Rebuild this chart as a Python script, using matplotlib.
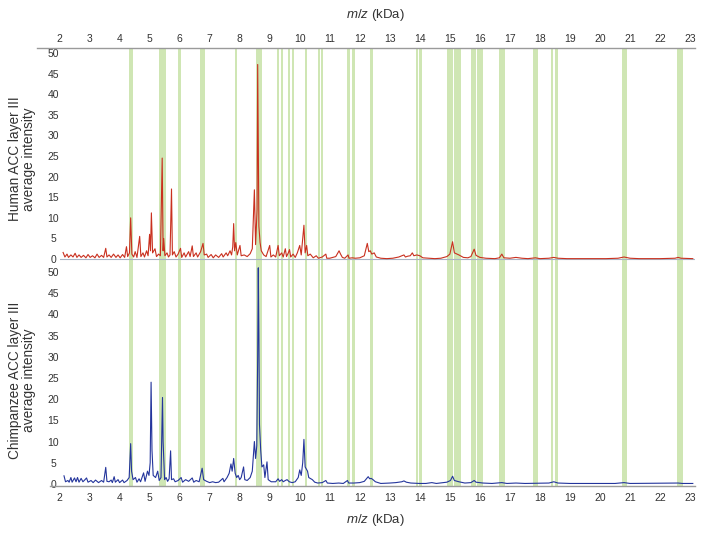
import matplotlib
matplotlib.use("Agg")
import matplotlib.pyplot as plt
from matplotlib.lines import Line2D

plt.rcParams['font.family'] = ['Liberation Sans', 'DejaVu Sans']
plt.rcParams['mathtext.fontset'] = 'custom'
plt.rcParams['mathtext.it'] = 'Liberation Sans:italic'
plt.rcParams['mathtext.rm'] = 'Liberation Sans'

# mass ranges (kDa) highlighted in green
bands = [(4.32, 4.45), (5.31, 5.54), (5.96, 6.06), (6.69, 6.83), (7.84, 7.91),
         (8.56, 8.73), (9.25, 9.31), (9.38, 9.44), (9.62, 9.68), (9.75, 9.82),
         (10.16, 10.23), (10.60, 10.67), (10.70, 10.77), (11.59, 11.67), (11.75, 11.83),
         (12.34, 12.43), (13.87, 13.95), (13.98, 14.07), (14.91, 15.09), (15.13, 15.20),
         (15.22, 15.38), (15.69, 15.86), (15.91, 16.09), (16.64, 16.82), (17.77, 17.92),
         (18.38, 18.45), (18.51, 18.59), (20.74, 20.89), (22.57, 22.75)]

human_mz = [2.12, 2.18, 2.25, 2.3, 2.38, 2.45, 2.52, 2.58, 2.65, 2.72, 2.8, 2.88, 2.95, 3.02,
            3.1, 3.18, 3.25, 3.32, 3.4, 3.47, 3.54, 3.58, 3.65, 3.72, 3.8, 3.88, 3.95, 4.02,
            4.1, 4.17, 4.23, 4.27, 4.33, 4.37, 4.41, 4.47, 4.52, 4.58, 4.67, 4.71, 4.78, 4.83,
            4.9, 4.95, 5.0, 5.03, 5.06, 5.1, 5.18, 5.23, 5.3, 5.36, 5.42, 5.45, 5.47, 5.51,
            5.58, 5.63, 5.68, 5.73, 5.76, 5.82, 5.88, 5.95, 6.03, 6.07, 6.15, 6.2, 6.3, 6.35,
            6.42, 6.46, 6.55, 6.6, 6.7, 6.78, 6.82, 6.9, 6.95, 7.05, 7.12, 7.2, 7.3, 7.4,
            7.45, 7.55, 7.6, 7.68, 7.73, 7.77, 7.8, 7.83, 7.87, 7.92, 8.01, 8.05, 8.15, 8.25,
            8.35, 8.42, 8.49, 8.53, 8.58, 8.6, 8.61, 8.64, 8.68, 8.72, 8.8, 8.88, 9.0, 9.04,
            9.12, 9.2, 9.28, 9.32, 9.4, 9.45, 9.52, 9.56, 9.62, 9.66, 9.7, 9.78, 9.85, 9.92,
            10.0, 10.05, 10.14, 10.18, 10.23, 10.27, 10.35, 10.45, 10.55, 10.62, 10.75, 10.87,
            10.9, 11.0, 11.1, 11.2, 11.31, 11.36, 11.42, 11.5, 11.61, 11.64, 11.75, 11.85,
            12.0, 12.15, 12.25, 12.3, 12.35, 12.4, 12.48, 12.55, 12.7, 12.9, 13.1, 13.3,
            13.47, 13.52, 13.6, 13.68, 13.75, 13.8, 13.9, 14.0, 14.1, 14.3, 14.5, 14.7,
            14.9, 15.0, 15.09, 15.15, 15.3, 15.45, 15.6, 15.7, 15.81, 15.87, 16.0, 16.2,
            16.5, 16.65, 16.73, 16.8, 17.0, 17.2, 17.4, 17.6, 17.85, 18.0, 18.3, 18.46,
            18.6, 18.9, 19.5, 20.2, 20.6, 20.8, 21.0, 21.3, 22.0, 22.5, 22.6, 22.7, 23.09]
human_int = [1.6, 0.5, 1.2, 0.4, 1.0, 0.5, 1.4, 0.4, 1.0, 0.4, 0.9, 0.3, 1.1, 0.4,
             0.8, 0.3, 1.2, 0.4, 0.9, 0.4, 2.6, 0.5, 1.0, 0.4, 1.2, 0.4, 1.0, 0.3,
             1.1, 0.4, 3.0, 0.6, 1.5, 10.0, 1.2, 0.5, 1.8, 0.4, 5.5, 0.6, 1.5, 0.5,
             2.0, 0.8, 6.0, 2.0, 11.2, 1.5, 2.5, 0.6, 1.2, 0.8, 24.5, 2.0, 5.0, 0.8,
             1.5, 0.5, 1.0, 17.0, 1.0, 1.8, 0.5, 1.2, 2.6, 0.4, 1.5, 0.5, 1.8, 0.6,
             3.2, 0.6, 1.5, 0.5, 1.8, 3.8, 1.0, 1.2, 0.4, 1.1, 0.3, 1.0, 0.4, 1.3,
             0.5, 1.5, 0.8, 2.0, 1.0, 3.0, 8.6, 2.0, 4.0, 1.0, 3.3, 0.8, 1.0, 0.6,
             1.3, 2.5, 16.8, 3.5, 12.0, 47.2, 38.0, 8.0, 4.0, 2.0, 1.0, 0.6, 3.3, 0.5,
             1.0, 0.5, 3.3, 0.8, 1.5, 0.5, 2.5, 0.6, 1.5, 2.3, 0.5, 1.2, 0.4, 1.5,
             3.3, 1.0, 8.2, 1.5, 3.3, 0.8, 1.2, 0.3, 0.8, 0.2, 0.5, 1.2,
             0.2, 0.2, 0.4, 0.6, 2.0, 1.2, 0.4, 0.2, 1.0, 0.2, 0.3, 0.2,
             0.3, 0.8, 3.8, 1.8, 2.0, 1.2, 1.5, 0.5, 0.2, 0.1, 0.2, 0.5,
             1.0, 0.5, 0.7, 0.8, 1.5, 0.8, 1.0, 0.8, 0.3, 0.2, 0.1, 0.2,
             0.6, 1.2, 4.2, 1.5, 1.0, 0.4, 0.3, 0.6, 2.4, 0.9, 0.4, 0.2,
             0.1, 0.3, 1.2, 0.3, 0.2, 0.4, 0.2, 0.1, 0.3, 0.1, 0.2, 0.4,
             0.2, 0.1, 0.1, 0.1, 0.2, 0.5, 0.2, 0.1, 0.1, 0.2, 0.4, 0.2, 0.1]

chimp_mz = [2.15, 2.2, 2.28, 2.32, 2.38, 2.42, 2.5, 2.55, 2.6, 2.65, 2.72, 2.78, 2.85, 2.9,
            2.95, 3.05, 3.12, 3.2, 3.3, 3.4, 3.47, 3.54, 3.58, 3.65, 3.72, 3.76, 3.82, 3.86,
            3.95, 4.0, 4.1, 4.15, 4.25, 4.32, 4.37, 4.4, 4.45, 4.53, 4.58, 4.65, 4.7, 4.8,
            4.85, 4.93, 4.98, 5.02, 5.05, 5.08, 5.12, 5.2, 5.27, 5.32, 5.38, 5.43, 5.45, 5.47,
            5.5, 5.55, 5.6, 5.65, 5.7, 5.73, 5.8, 5.85, 5.95, 6.05, 6.1, 6.2, 6.3, 6.42,
            6.47, 6.55, 6.65, 6.75, 6.8, 6.9, 7.0, 7.1, 7.2, 7.3, 7.44, 7.48, 7.58, 7.65,
            7.71, 7.75, 7.8, 7.85, 7.9, 7.95, 8.0, 8.05, 8.13, 8.17, 8.25, 8.35, 8.42, 8.49,
            8.53, 8.57, 8.6, 8.62, 8.64, 8.66, 8.7, 8.74, 8.8, 8.84, 8.91, 8.95, 9.05, 9.2,
            9.28, 9.33, 9.4, 9.45, 9.52, 9.58, 9.65, 9.75, 9.85, 9.95, 10.0, 10.05, 10.1, 10.14,
            10.18, 10.26, 10.3, 10.42, 10.5, 10.6, 10.75, 10.87, 10.92, 11.1, 11.3, 11.45,
            11.59, 11.63, 11.8, 12.0, 12.15, 12.28, 12.33, 12.38, 12.44, 12.52, 12.7, 13.0,
            13.2, 13.4, 13.47, 13.55, 13.7, 14.0, 14.2, 14.4, 14.55, 14.9, 15.02, 15.09,
            15.15, 15.3, 15.5, 15.7, 15.81, 15.87, 16.1, 16.4, 16.73, 16.9, 17.2, 17.5,
            18.3, 18.46, 18.6, 19.0, 20.5, 20.8, 21.0, 22.6, 22.75, 23.09]
chimp_int = [1.9, 0.5, 0.8, 0.4, 1.5, 0.4, 1.4, 0.5, 1.5, 0.4, 1.3, 0.5, 1.0, 1.4,
             0.4, 0.8, 0.3, 0.9, 0.3, 0.8, 0.4, 3.9, 0.6, 0.5, 0.9, 0.3, 1.7, 0.4,
             1.0, 0.3, 0.9, 0.3, 0.8, 1.5, 9.5, 3.0, 1.0, 1.5, 0.4, 1.2, 0.5, 2.6,
             0.6, 3.0, 2.0, 5.0, 24.0, 8.0, 2.0, 1.5, 3.0, 0.8, 1.5, 20.4, 10.0, 6.5,
             1.0, 1.5, 0.6, 1.2, 7.8, 1.0, 1.2, 0.5, 0.8, 1.5, 0.4, 1.0, 0.6, 1.4,
             0.4, 0.8, 0.5, 3.7, 1.0, 0.6, 0.3, 0.5, 0.3, 0.4, 1.3, 0.5, 1.5, 2.5,
             4.7, 3.0, 6.0, 2.5, 1.5, 2.0, 1.0, 1.5, 4.0, 1.0, 0.8, 1.5, 3.0, 10.0,
             6.0, 9.0, 30.0, 51.0, 35.0, 14.0, 8.0, 4.0, 4.5, 1.5, 5.2, 1.0, 0.5, 0.5,
             1.2, 0.6, 1.0, 0.5, 0.8, 1.0, 0.5, 0.3, 0.5, 1.5, 3.3, 2.0, 5.0, 10.5,
             4.0, 3.0, 1.5, 1.0, 0.4, 0.2, 0.3, 0.8, 0.2, 0.1, 0.2, 0.1,
             0.8, 0.2, 0.2, 0.3, 0.6, 1.7, 1.2, 1.3, 1.0, 0.5, 0.1, 0.2,
             0.3, 0.5, 0.7, 0.4, 0.2, 0.1, 0.1, 0.3, 0.1, 0.4, 0.8, 1.8,
             0.8, 0.5, 0.2, 0.3, 0.8, 0.4, 0.2, 0.1, 0.3, 0.1, 0.2, 0.1,
             0.2, 0.5, 0.2, 0.1, 0.1, 0.3, 0.1, 0.2, 0.1, 0.1]

xticks = list(range(2, 24))
yticks = list(range(0, 51, 5))

band_color = '#cfe6b4'
text_color = '#333333'
axis_color = '#9a9a9a'

W, H = 704, 536
fig = plt.figure(figsize=(W / 100, H / 100), dpi=100)
left = 59.5 / W
width = (694.6 - 59.5) / W
ax1 = fig.add_axes([left, 1 - 264 / H, width, (264 - 48) / H])
ax2 = fig.add_axes([left, 1 - 486 / H, width, (486 - 264) / H])

for ax in (ax1, ax2):
    for a, b in bands:
        ax.axvspan(a, b, color=band_color, lw=0, zorder=0)
    ax.set_xlim(2.05, 23.15)
    ax.set_xticks(xticks)
    ax.set_yticks(yticks)
    for s in ax.spines.values():
        s.set_visible(False)
    ax.tick_params(length=0, labelsize=7.5, colors=text_color)
    ax.tick_params(axis='y', pad=4.5)
    for lab in ax.get_yticklabels():
        lab.set_horizontalalignment('center')

ax1.plot(human_mz, human_int, color='#c9301f', lw=0.8, zorder=2)
ax1.set_ylim(-1.2, 51.2)
ax1.axhline(0, color='#a9b4c4', lw=0.8, zorder=1)
ax1.xaxis.tick_top()
ax1.tick_params(axis='x', pad=3)

ax2.plot(chimp_mz, chimp_int, color='#24359c', lw=0.8, zorder=2)
ax2.set_ylim(-0.5, 51.9)
ax2.tick_params(axis='x', pad=5)

# axis lines
fig.add_artist(Line2D([37 / W, 695 / W], [1 - 48 / H, 1 - 48 / H], color=axis_color, lw=1))
fig.add_artist(Line2D([50 / W, 695 / W], [1 - 486 / H, 1 - 486 / H], color=axis_color, lw=1))

fig.text(375 / W, 1 - 15 / H, r'$m/z$ (kDa)', ha='center', va='center', fontsize=9.5, color=text_color)
fig.text(375 / W, 1 - 520 / H, r'$m/z$ (kDa)', ha='center', va='center', fontsize=9.5, color=text_color)

fig.text(22 / W, 1 - 159 / H, 'Human ACC layer III\naverage intensity', rotation=90,
         ha='center', va='center', fontsize=9.8, color=text_color, linespacing=1.05)
fig.text(22 / W, 1 - 380 / H, 'Chimpanzee ACC layer III\naverage intensity', rotation=90,
         ha='center', va='center', fontsize=9.8, color=text_color, linespacing=1.05)

fig.savefig('out.png', dpi=100)
